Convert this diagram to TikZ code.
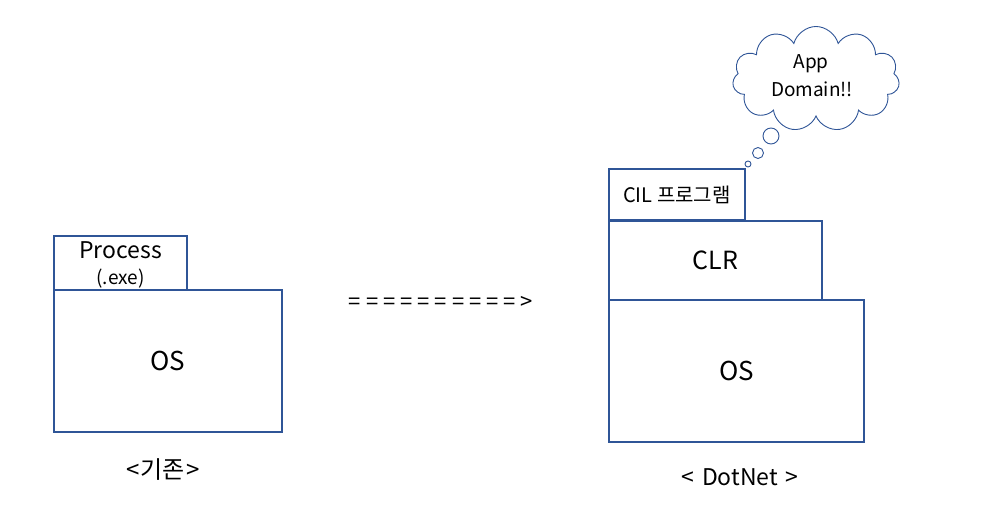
\documentclass[tikz,border=0pt]{standalone}
\usepackage{fontspec}
\setmainfont{Noto Sans CJK KR}
\usetikzlibrary{positioning,shapes.symbols}
\definecolor{boxblue}{RGB}{47,85,151}

\begin{document}
\begin{tikzpicture}[x=1pt,y=-1pt]
		\tikzstyle{every node}+=[inner sep=0pt]
		\tikzset{layerbox/.style={draw=boxblue,line width=1.1pt,rectangle},
			bubble/.style={draw=boxblue,line width=0.9pt,circle}}
		\useasboundingbox (0,0) rectangle (997,508);
		% left side
		\node [layerbox,minimum width=133pt,minimum height=54pt] (proc) at (120.5,263) {};
		\node (proctext) at (120.5,250) {\fontsize{23}{28}\selectfont Process};
		\node (exetext) at (120.5,279) {\fontsize{19}{22}\selectfont (.exe)};
		\node [layerbox,minimum width=228pt,minimum height=142pt] (osold) at (168,361) {\fontsize{26}{30}\selectfont OS};
		\node (oldlabel) at (163,470) {\fontsize{24}{28}\selectfont <\hspace{1pt}기존\hspace{1pt}>};
		% arrow
		\node (arrowtext) at (441,303) {\fontsize{22}{26}\selectfont\spaceskip=5pt = = = = = = = = = = >};
		% right side
		\node [layerbox,minimum width=136pt,minimum height=51pt] (cil) at (677,194.5) {\fontsize{20}{24}\selectfont CIL 프로그램};
		\node [layerbox,minimum width=213pt,minimum height=79pt] (clr) at (715.5,260.5) {\fontsize{25}{28}\selectfont CLR};
		\node [layerbox,minimum width=255pt,minimum height=142pt] (osnew) at (736.5,371) {\fontsize{26}{30}\selectfont OS};
		\node (newlabel) at (740,477) {\fontsize{23}{28}\selectfont <\hspace{8pt}DotNet\hspace{8pt}>};
		% thought cloud
		\node [cloud,cloud puffs=11,aspect=1.6,draw=boxblue,line width=0.9pt,
			minimum width=167pt,minimum height=105pt] (appdomain) at (816,79) {};
		\node (apptext) at (811,64) {\fontsize{19}{24}\selectfont App};
		\node (domaintext) at (812,89) {\fontsize{19}{24}\selectfont Domain!!};
		\node [bubble,minimum size=16pt] (bubbleA) at (771,136) {};
		\node [bubble,minimum size=11pt] (bubbleB) at (758,153) {};
		\node [bubble,minimum size=6pt] (bubbleC) at (748,164) {};
\end{tikzpicture}
\end{document}
